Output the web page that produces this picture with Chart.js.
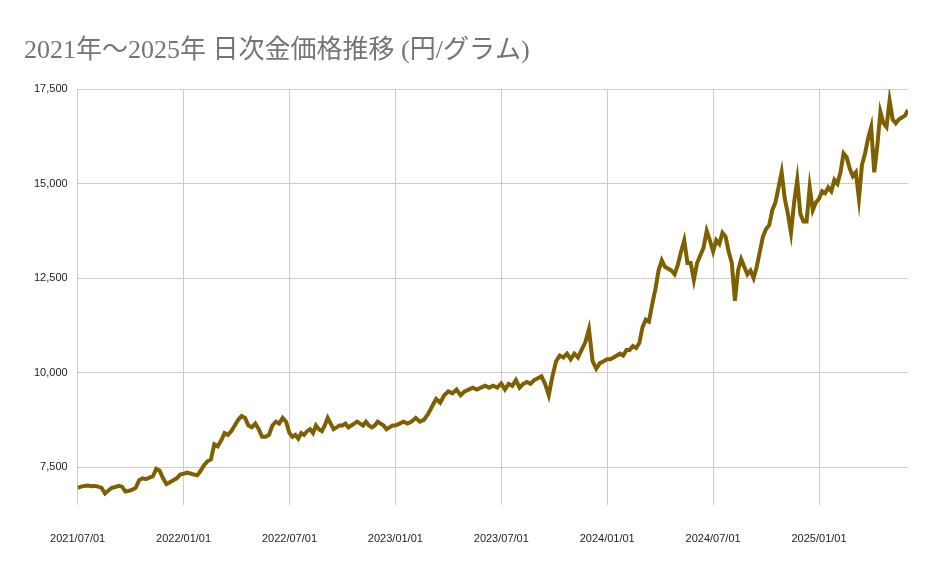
<!DOCTYPE html>
<html><head><meta charset="utf-8">
<script src="https://cdn.jsdelivr.net/npm/chart.js@4"></script>
<style>body{margin:0;background:#fff}#w{width:938px;height:580px}</style>
</head><body><div id="w"><canvas id="c"></canvas></div>
<script>
const tickLabels=["2021/07/01","2022/01/01","2022/07/01","2023/01/01","2023/07/01","2024/01/01","2024/07/01","2025/01/01"];
const yTicks=[7500,10000,12500,15000,17500];
const h2021b=[6950,6980,7000,7010,6990,7000,6980,6950,6800,6880,6950,6970,7000,6980,6850,6870,6900,6950,7150,7200,7180,7220,7250,7450,7400,7200,7050,7100,7150,7200,7300];
const h2022a=[7320,7350,7330,7300,7280,7400,7550,7650,7700,8100,8050,8200,8400,8350,8450,8600,8750,8850,8800,8600,8550,8650,8500,8300,8300,8350,8600,8700,8650,8800,8700];
const h2022b=[8400,8300,8350,8250,8400,8350,8450,8500,8400,8600,8500,8450,8600,8800,8650,8500,8550,8600,8600,8650,8550,8600,8650,8700,8650,8600,8700,8600,8550,8600,8700,8650,8600,8500,8550,8600];
const h2023a=[8600,8650,8700,8650,8700,8800,8700,8750,8900,9100,9300,9200,9400,9500,9450,9550,9400,9500,9550,9600,9550,9600,9650,9600,9650,9600];
const h2023b=[9710,9550,9700,9650,9800,9600,9700,9750,9700,9800,9850,9900,9700,9400,9900,10300,10450,10400,10500,10350,10500,10400,10600,10800,11150,10300,10100,10250,10300];
const h2024a=[10350,10350,10400,10450,10500,10450,10600,10600,10700,10650,10780,11200,11400,11350,11800,12200,12700,12970,12800,12750,12700,12600,12850,13200,13500,12900,12900,12450,12900,13100,13300,13750,13500];
const h2024b=[13200,13500,13400,13700,13600,13200,12900,11900,12700,13000,12800,12600,12700,12500,12800,13200,13600,13800,13900,14300,14500,14900,15300,14600,14200,13700,14500,15100,14200,14000,14000,14900,14300,14500];
const h2025a=[14600,14800,14750,14900,14800,15100,15000,15300,15800,15700,15400,15200,15300,14600,15500,15800,16200,16500,15300,16000,16900,16600,16500,17200,16700,16600,16700,16750,16800,16950];
const halves=[h2021b,h2022a,h2022b,h2023a,h2023b,h2024a,h2024b,h2025a];
const spans=[1,1,1,1,1,1,1,0.84];
const pts=[];
halves.forEach((arr,h)=>{arr.forEach((v,i)=>{pts.push({x:h+spans[h]*i/(h===7?arr.length-1:arr.length),y:v});});});
new Chart(document.getElementById('c'),{type:'line',
data:{datasets:[{data:pts,borderColor:'#7f6000',borderWidth:4,pointRadius:0,tension:0,fill:false}]},
options:{responsive:true,maintainAspectRatio:false,animation:false,
layout:{padding:{left:24,right:30,top:36,bottom:6}},
plugins:{legend:{display:false},tooltip:{enabled:false},
title:{display:true,text:'2021年～2025年 日次金価格推移 (円/グラム)',align:'start',color:'#757575',
font:{family:'"Liberation Serif","Noto Sans CJK JP"',size:26,weight:'normal'},padding:{top:0,bottom:22}}},
scales:{
x:{type:'linear',min:0,max:7.84,afterBuildTicks:a=>{a.ticks=tickLabels.map((_,i)=>({value:i}));},
ticks:{callback:v=>tickLabels[v]||'',color:'#222',font:{family:'Arial,"Liberation Sans"',size:11},maxRotation:0,padding:28},
grid:{color:'#cccccc',drawTicks:false},border:{display:false}},
y:{min:6500,max:17500,afterBuildTicks:a=>{a.ticks=yTicks.map(v=>({value:v}));},
ticks:{callback:v=>v.toLocaleString('en-US'),color:'#222',font:{family:'Arial,"Liberation Sans"',size:11},padding:10},
grid:{color:'#cccccc',drawTicks:false},border:{display:false}}}}});
</script></body></html>
